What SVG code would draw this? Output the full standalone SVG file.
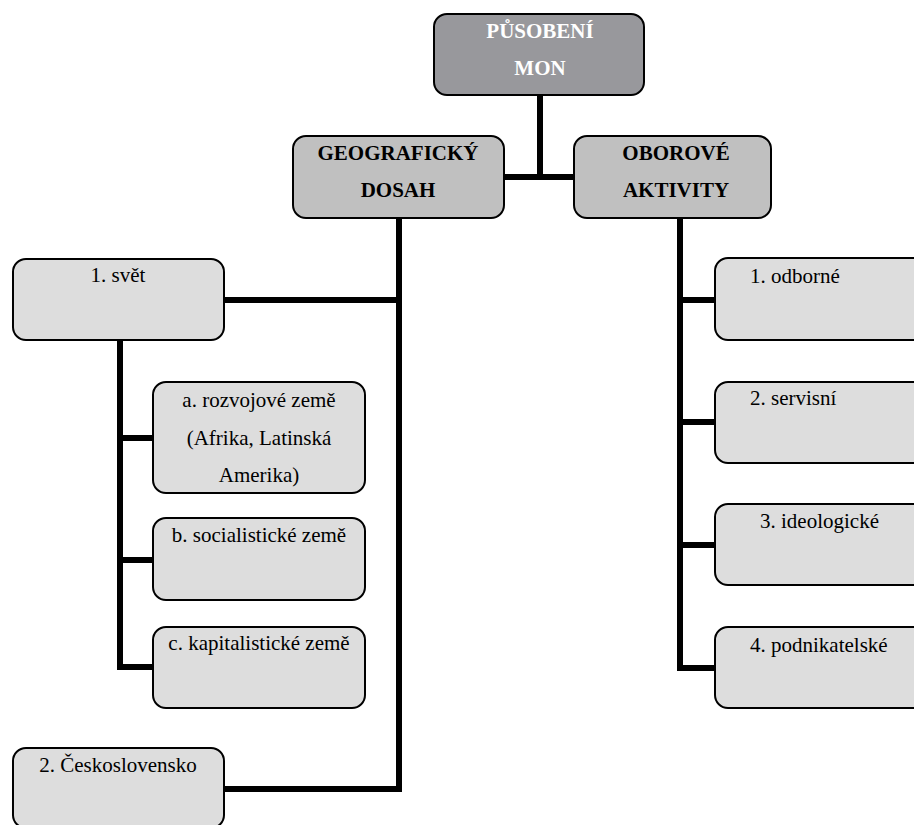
<svg xmlns="http://www.w3.org/2000/svg" width="914" height="825" viewBox="0 0 914 825">
<style>
  .box { stroke: #000; stroke-width: 2; }
  .top { fill: #98989c; }
  .mid { fill: #c0c0c0; }
  .leaf { fill: #dddddd; }
  text { font-family: 'Liberation Serif', 'Times New Roman', serif; font-size: 21px; fill: #000; }
  .b { font-weight: bold; }
  .w { fill: #ffffff; }
  .c { text-anchor: middle; }
  .conn { fill: none; stroke: #000; stroke-width: 6; stroke-linejoin: miter; stroke-linecap: butt; }
</style>
<rect width="914" height="825" fill="#ffffff"/>
<g id="connectors">
  <path class="conn" d="M540 95 V180"/>
  <path class="conn" d="M504 177 H574"/>
  <path class="conn" d="M399 218 V789 H224"/>
  <path class="conn" d="M224 300 H399"/>
  <path class="conn" d="M680 218 V671"/>
  <path class="conn" d="M680 300 H715 M680 422 H715 M680 545 H715 M677 668 H715"/>
  <path class="conn" d="M120 340 V670"/>
  <path class="conn" d="M120 438 H153 M120 560 H153 M117 667 H153"/>
</g>
<g id="n-root">
  <rect class="box top" x="434" y="14" width="210" height="81" rx="13"/>
  <text class="b w c" x="540" y="38">PŮSOBENÍ</text>
  <text class="b w c" x="540" y="75">MON</text>
</g>
<g id="n-geo">
  <rect class="box mid" x="293" y="136" width="211" height="82" rx="13"/>
  <text class="b c" x="398" y="160">GEOGRAFICKÝ</text>
  <text class="b c" x="398" y="197">DOSAH</text>
</g>
<g id="n-obor">
  <rect class="box mid" x="574" y="136" width="197" height="82" rx="13"/>
  <text class="b c" x="676" y="160">OBOROVÉ</text>
  <text class="b c" x="676" y="197">AKTIVITY</text>
</g>
<g id="n-svet">
  <rect class="box leaf" x="13" y="259" width="211" height="81" rx="13"/>
  <text class="c" x="118" y="282">1. svět</text>
</g>
<g id="n-rozvoj">
  <rect class="box leaf" x="153" y="382" width="212" height="111" rx="13"/>
  <text class="c" x="259" y="407">a. rozvojové země</text>
  <text class="c" x="259" y="445">(Afrika, Latinská</text>
  <text class="c" x="259" y="482">Amerika)</text>
</g>
<g id="n-social">
  <rect class="box leaf" x="153" y="518" width="212" height="82" rx="13"/>
  <text class="c" x="259" y="542">b. socialistické země</text>
</g>
<g id="n-kapital">
  <rect class="box leaf" x="153" y="627" width="212" height="81" rx="13"/>
  <text class="c" x="259" y="650">c. kapitalistické země</text>
</g>
<g id="n-cs">
  <rect class="box leaf" x="13" y="748" width="211" height="80" rx="13"/>
  <text class="c" x="118" y="772">2. Československo</text>
</g>
<g id="n-odborne">
  <rect class="box leaf" x="715" y="258" width="220" height="82" rx="13"/>
  <text x="750" y="283">1. odborné</text>
</g>
<g id="n-servisni">
  <rect class="box leaf" x="715" y="382" width="220" height="81" rx="13"/>
  <text x="750" y="405">2. servisní</text>
</g>
<g id="n-ideolog">
  <rect class="box leaf" x="715" y="504" width="220" height="81" rx="13"/>
  <text x="760" y="528">3. ideologické</text>
</g>
<g id="n-podnik">
  <rect class="box leaf" x="715" y="627" width="220" height="81" rx="13"/>
  <text x="750" y="652">4. podnikatelské</text>
</g>
</svg>
